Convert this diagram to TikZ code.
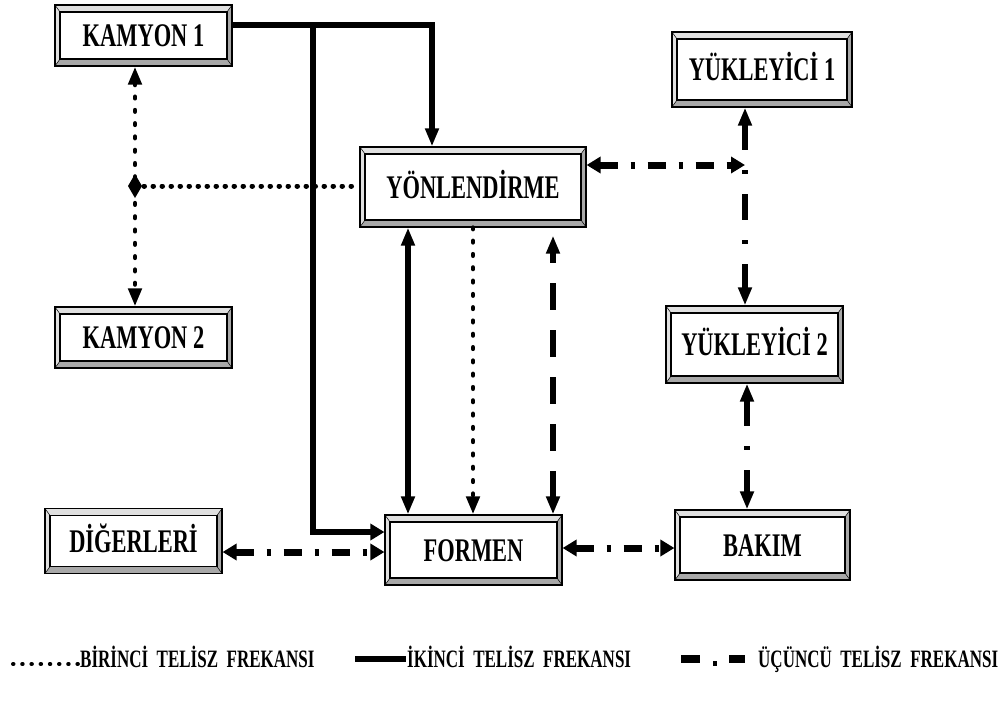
\documentclass[tikz,border=0pt]{standalone}
\usepackage{fontspec}
\setmainfont{Liberation Serif}
\usepackage{graphicx}
\usetikzlibrary{arrows.meta}

\definecolor{bevlight}{gray}{0.88}
\definecolor{bevdark}{gray}{0.66}

% condensed lettering used throughout
\newcommand{\narrow}[1]{\scalebox{0.68}[1]{#1}}
\newcommand{\panelfont}{\fontsize{33}{36}\selectfont\bfseries}
\newcommand{\legendfont}{\fontsize{25}{28}\selectfont\bfseries}

\tikzset{
  tipV/.tip={Triangle[length=18pt,width=13pt]},
  tipH/.tip={Triangle[length=14pt,width=16pt]},
  panel/.style={
    draw=black, line width=1.2pt, fill=white, inner sep=0pt,
    font=\panelfont, text height=22pt, text depth=0pt,
    path picture={
      \path (path picture bounding box.north west) coordinate (pnw)
            (path picture bounding box.north east) coordinate (pne)
            (path picture bounding box.south west) coordinate (psw)
            (path picture bounding box.south east) coordinate (pse);
      \path ([xshift=5pt,yshift=-7pt]pnw) coordinate (qnw)
            ([xshift=-5pt,yshift=-7pt]pne) coordinate (qne)
            ([xshift=5pt,yshift=7pt]psw) coordinate (qsw)
            ([xshift=-5pt,yshift=7pt]pse) coordinate (qse);
      \fill[bevlight] (pnw) -- (pne) -- (qne) -- (qnw) -- (qsw) -- (psw) -- cycle;
      \fill[bevdark] (psw) -- (pse) -- (pne) -- (qne) -- (qse) -- (qsw) -- cycle;
      \draw[line width=0.5pt] (pnw) -- (qnw) (pne) -- (qne) (psw) -- (qsw) (pse) -- (qse);
      \draw[line width=1.2pt] (qnw) rectangle (qse);
    }},
  solidline/.style={line width=6pt, line join=miter},
  dotV/.style={line width=4.6pt, line cap=round, dash pattern=on 1.5pt off 11.8pt},
  dotH/.style={line width=5pt, line cap=round, dash pattern=on 0.5pt off 8.5pt},
  dashV/.style={line width=6pt, dash pattern=on 27pt off 20pt},
  ddV/.style={line width=6pt, dash pattern=on 26pt off 20pt on 4pt off 20pt},
  ddH/.style={line width=7pt, dash pattern=on 18pt off 13pt on 4pt off 13pt},
  legtext/.style={font=\legendfont, inner sep=0pt, anchor=base west},
}

\begin{document}
\begin{tikzpicture}[x=1pt,y=-1pt]
\useasboundingbox (0,0) rectangle (1006,702);

% units
\node[panel, minimum width=177pt, minimum height=61pt] (k1) at (143.5,35.5) {\narrow{KAMYON 1}};
\node[panel, minimum width=226pt, minimum height=80pt] (yon) at (473,187) {\narrow{YÖNLENDİRME}};
\node[panel, minimum width=180pt, minimum height=75pt] (y1) at (762,69.5) {\narrow{YÜKLEYİCİ 1}};
\node[panel, minimum width=177pt, minimum height=61pt] (k2) at (143.5,337.5) {\narrow{KAMYON 2}};
\node[panel, minimum width=177pt, minimum height=77pt] (y2) at (754.5,344.5) {\narrow{YÜKLEYİCİ 2}};
\node[panel, minimum width=177pt, minimum height=65pt] (dig) at (133.5,541) {\narrow{DİĞERLERİ}};
\node[panel, minimum width=177pt, minimum height=70pt] (formen) at (473.5,550) {\narrow{FORMEN}};
\node[panel, minimum width=175pt, minimum height=70pt] (bakim) at (762.5,545) {\narrow{BAKIM}};

% routing points
\coordinate (jL) at (135,186);
\coordinate (tA) at (313,25);
\coordinate (tB) at (432,25);
\coordinate (fL) at (313,532);
\coordinate (xS) at (408,0);
\coordinate (xD) at (553,0);
\coordinate (jR) at (745,165);
\coordinate (xB) at (747,0);
\coordinate (yDig) at (0,552);
\coordinate (yBak) at (0,548);

% first frequency (dotted)
\draw[dotV, {tipV}-{tipV}] (k1.south -| jL) -- (k2.north -| jL);
\draw[dotH] (jL) -- (jL -| yon.west);
\fill (jL) +(0,-12) -- +(7,0) -- +(0,12) -- +(-7,0) -- cycle;
\draw[dotV, -{tipV}] (yon.south) -- (yon.south |- formen.north);

% second frequency (solid)
\draw[solidline, -{tipV}] (k1.east |- tA) -- (tB) -- (tB |- yon.north);
\draw[solidline, -{tipH}] (tA) -- (fL) -- (fL -| formen.west);
\draw[solidline, {tipV}-{tipV}] (yon.south -| xS) -- (formen.north -| xS);

% third frequency (dashed / dash-dot)
\draw[dashV, {tipV}-{tipV}, shorten >=8pt] (formen.north -| xD) -- (yon.south -| xD);
\draw[ddV, {tipV}-{tipV}] (y1.south -| jR) -- (y2.north -| jR);
\draw[ddH, {tipH}-{tipH}] (jR -| yon.east) -- (jR);
\draw[ddV, {tipV}-{tipV}] (y2.south -| xB) -- (bakim.north -| xB);
\draw[ddH, {tipH}-{tipH}] (dig.east |- yDig) -- (formen.west |- yDig);
\draw[ddH, {tipH}-{tipH}] (formen.east |- yBak) -- (bakim.west |- yBak);

% legend
\draw[line width=4pt, line cap=round, dash pattern=on 0.5pt off 8.7pt] (13,664) -- (79,664);
\node[legtext] (lg1) at (80,667) {\narrow{BİRİNCİ\ \ TELİSZ\ \ FREKANSI}};
\draw[line width=6pt] (355,659) -- (406,659);
\node[legtext] (lg2) at (407,667) {\narrow{İKİNCİ\ \ TELİSZ\ \ FREKANSI}};
\fill (681,655) rectangle (700,663);
\fill (713,661) rectangle (717,666);
\fill (729,655) rectangle (745,663);
\node[legtext] (lg3) at (758,667) {\narrow{ÜÇÜNCÜ\ \ TELİSZ\ \ FREKANSI}};
\end{tikzpicture}
\end{document}
